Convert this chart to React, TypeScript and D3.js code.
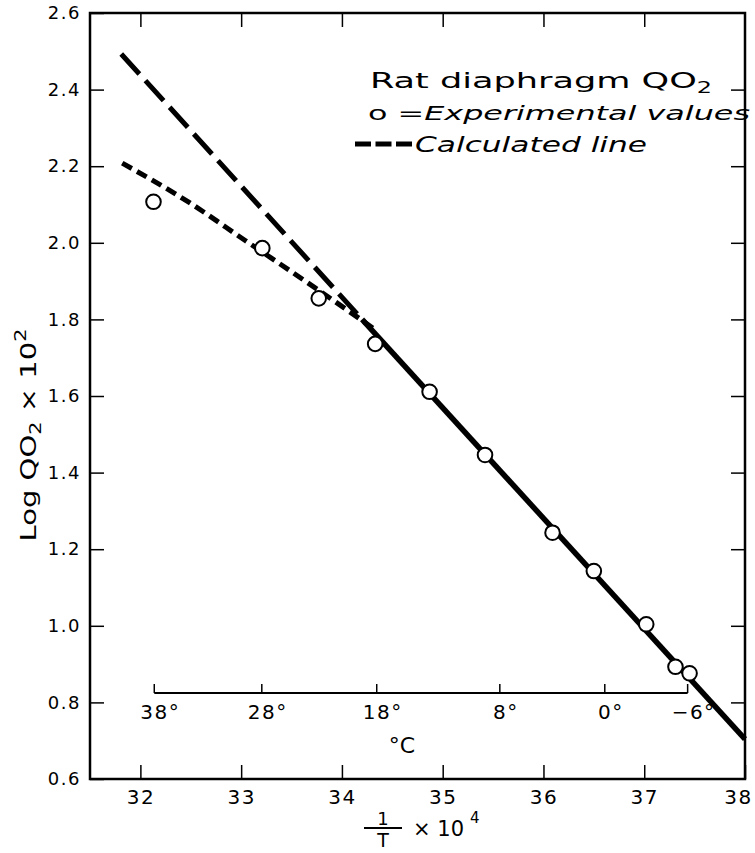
import React, { useRef, useEffect } from 'react';
import * as d3 from 'd3';

// experimental points: 1/T x 10^4 and log QO2 x 10^2
const invT = [32.13, 33.21, 33.77, 34.33, 34.87, 35.42, 36.09, 36.5, 37.02, 37.31, 37.45];
const logQ = [2.107, 1.986, 1.855, 1.736, 1.611, 1.446, 1.243, 1.143, 1.004, 0.893, 0.876];

// calculated (short dash) curve
const calcX = [31.82, 32.48, 33.04, 33.72, 34.31];
const calcY = [2.208, 2.106, 2.006, 1.885, 1.777];

// straight line, extrapolated part (long dash) and fitted part (solid)
const extrapX = [31.81, 34.2];
const extrapY = [2.493, 1.8];
const fitX = [34.2, 38.0];
const fitY = [1.8, 0.704];

const xTicks = [32, 33, 34, 35, 36, 37, 38];
const yTicks = [0.6, 0.8, 1.0, 1.2, 1.4, 1.6, 1.8, 2.0, 2.2, 2.4, 2.6];
const celsiusTicks = [38, 28, 18, 8, 0, -6];

const FONT = '"DejaVu Sans", sans-serif';

function Chart() {
  const ref = useRef<SVGSVGElement>(null);

  useEffect(() => {
    const svg = d3.select(ref.current);
    svg.selectAll('*').remove();

    const x = d3.scaleLinear().domain([31.5, 38]).range([90, 745]);
    const y = d3.scaleLinear().domain([0.6, 2.6]).range([779, 13]);
    const toInvT = (c: number) => 1e4 / (c + 273.16);

    svg.append('rect').attr('width', 755).attr('height', 853).attr('fill', '#fff');

    // axes with inward ticks
    const bottom = svg.append('g')
      .attr('transform', 'translate(0,779)')
      .call(d3.axisBottom(x).tickValues(xTicks).tickSize(-14).tickPadding(11).tickFormat(d3.format('d')));
    const left = svg.append('g')
      .attr('transform', 'translate(90,0)')
      .call(d3.axisLeft(y).tickValues(yTicks).tickSize(-14).tickPadding(9).tickFormat(d3.format('.1f')));
    svg.append('g')
      .attr('transform', 'translate(0,13)')
      .call(d3.axisTop(x).tickValues(xTicks.slice(0, -1)).tickSize(-14).tickFormat(() => ''));
    svg.append('g')
      .attr('transform', 'translate(745,0)')
      .call(d3.axisRight(y).tickValues(yTicks.slice(1, -1)).tickSize(-14).tickFormat(() => ''));

    svg.selectAll('.domain').remove();
    svg.selectAll('.tick line').attr('stroke', '#000').attr('stroke-width', 1.5);
    bottom.selectAll('text')
      .attr('font-family', FONT).attr('font-size', 20).attr('letter-spacing', 1.5).attr('fill', '#000')
      .attr('dx', (d: any) => (d === 38 ? -7 : 0));
    left.selectAll('text').attr('font-family', FONT).attr('font-size', 18).attr('letter-spacing', 1.5).attr('fill', '#000');

    svg.append('rect')
      .attr('x', 90).attr('y', 13).attr('width', 655).attr('height', 766)
      .attr('fill', 'none').attr('stroke', '#000').attr('stroke-width', 2.5);

    // inner celsius scale
    const cy = 693;
    const cg = svg.append('g');
    cg.append('line')
      .attr('x1', x(toInvT(celsiusTicks[0]))).attr('x2', x(toInvT(celsiusTicks[celsiusTicks.length - 1])))
      .attr('y1', cy).attr('y2', cy)
      .attr('stroke', '#000').attr('stroke-width', 1.8);
    cg.selectAll('line.ct').data(celsiusTicks).join('line')
      .attr('class', 'ct')
      .attr('x1', d => x(toInvT(d))).attr('x2', d => x(toInvT(d)))
      .attr('y1', cy).attr('y2', cy - 9)
      .attr('stroke', '#000').attr('stroke-width', 1.5);
    cg.selectAll('text').data(celsiusTicks).join('text')
      .attr('x', d => x(toInvT(d)) + 6)
      .attr('y', 719)
      .attr('text-anchor', 'middle')
      .attr('font-family', FONT).attr('font-size', 20).attr('letter-spacing', 1.5)
      .text(d => (d < 0 ? '\u2212' + Math.abs(d) : d) + '\u00b0');
    svg.append('text')
      .attr('x', 402).attr('y', 753).attr('text-anchor', 'middle')
      .attr('font-family', FONT).attr('font-size', 22)
      .text('\u00b0C');

    // lines
    const line = d3.line<number[]>().x(d => x(d[0])).y(d => y(d[1]));
    const pairs = (xs: number[], ys: number[]) => xs.map((v, i) => [v, ys[i]]);

    svg.append('path')
      .datum(pairs(extrapX, extrapY))
      .attr('d', line as any)
      .attr('fill', 'none').attr('stroke', '#000').attr('stroke-width', 5)
      .attr('stroke-dasharray', '27 9');
    svg.append('path')
      .datum(pairs(fitX, fitY))
      .attr('d', line as any)
      .attr('fill', 'none').attr('stroke', '#000').attr('stroke-width', 5.5);
    svg.append('path')
      .datum(pairs(calcX, calcY))
      .attr('d', (d3.line<number[]>().x(d => x(d[0])).y(d => y(d[1])).curve(d3.curveMonotoneX)) as any)
      .attr('fill', 'none').attr('stroke', '#000').attr('stroke-width', 5)
      .attr('stroke-dasharray', '11 6');

    // points
    svg.selectAll('circle.pt').data(pairs(invT, logQ)).join('circle')
      .attr('class', 'pt')
      .attr('cx', d => x(d[0])).attr('cy', d => y(d[1])).attr('r', 7.3)
      .attr('fill', '#fff').attr('stroke', '#000').attr('stroke-width', 2);

    // legend
    const lg = svg.append('g').attr('font-family', FONT).attr('fill', '#000');
    const t1 = lg.append('text').attr('x', 370).attr('y', 88).attr('font-size', 22)
      .attr('textLength', 342).attr('lengthAdjust', 'spacingAndGlyphs');
    t1.append('tspan').text('Rat diaphragm QO');
    t1.append('tspan').attr('dy', 5).attr('font-size', 15).text('2');

    const t2 = lg.append('text').attr('x', 368).attr('y', 120).attr('font-size', 20)
      .attr('textLength', 382).attr('lengthAdjust', 'spacingAndGlyphs');
    t2.append('tspan').text('o =');
    t2.append('tspan').attr('font-style', 'italic').text('Experimental values');

    lg.append('line')
      .attr('x1', 355).attr('x2', 412).attr('y1', 144).attr('y2', 144)
      .attr('stroke', '#000').attr('stroke-width', 5).attr('stroke-dasharray', '16 4.5');
    lg.append('text').attr('x', 415).attr('y', 152).attr('font-size', 21)
      .attr('font-style', 'italic')
      .attr('textLength', 232).attr('lengthAdjust', 'spacingAndGlyphs')
      .text('Calculated line');

    // y title
    const yt = svg.append('text')
      .attr('transform', 'translate(36,435) rotate(-90)')
      .attr('text-anchor', 'middle')
      .attr('font-family', FONT).attr('font-size', 21)
      .attr('textLength', 213).attr('lengthAdjust', 'spacingAndGlyphs');
    yt.append('tspan').text('Log QO');
    yt.append('tspan').attr('dy', 5).attr('font-size', 15).text('2');
    yt.append('tspan').attr('dy', -5).text(' \u00d7 10');
    yt.append('tspan').attr('dy', -10).attr('font-size', 15).text('2');

    // x title
    const xg = svg.append('g').attr('font-family', FONT);
    xg.append('text').attr('x', 383).attr('y', 825).attr('text-anchor', 'middle').attr('font-size', 18).text('1');
    xg.append('line').attr('x1', 364).attr('x2', 402).attr('y1', 828).attr('y2', 828)
      .attr('stroke', '#000').attr('stroke-width', 2);
    xg.append('text').attr('x', 383).attr('y', 847).attr('text-anchor', 'middle').attr('font-size', 19).text('T');
    const xt = xg.append('text').attr('x', 413).attr('y', 836).attr('font-size', 21);
    xt.append('tspan').text('\u00d7 10');
    xt.append('tspan').attr('dx', 6).attr('dy', -13).attr('font-size', 15).text('4');
  }, []);

  return (
    <svg ref={ref} width={755} height={853} style={{ position: 'absolute', left: 0, top: 0 }}></svg>
  );
}

export default function App() {
  return <Chart />;
}
